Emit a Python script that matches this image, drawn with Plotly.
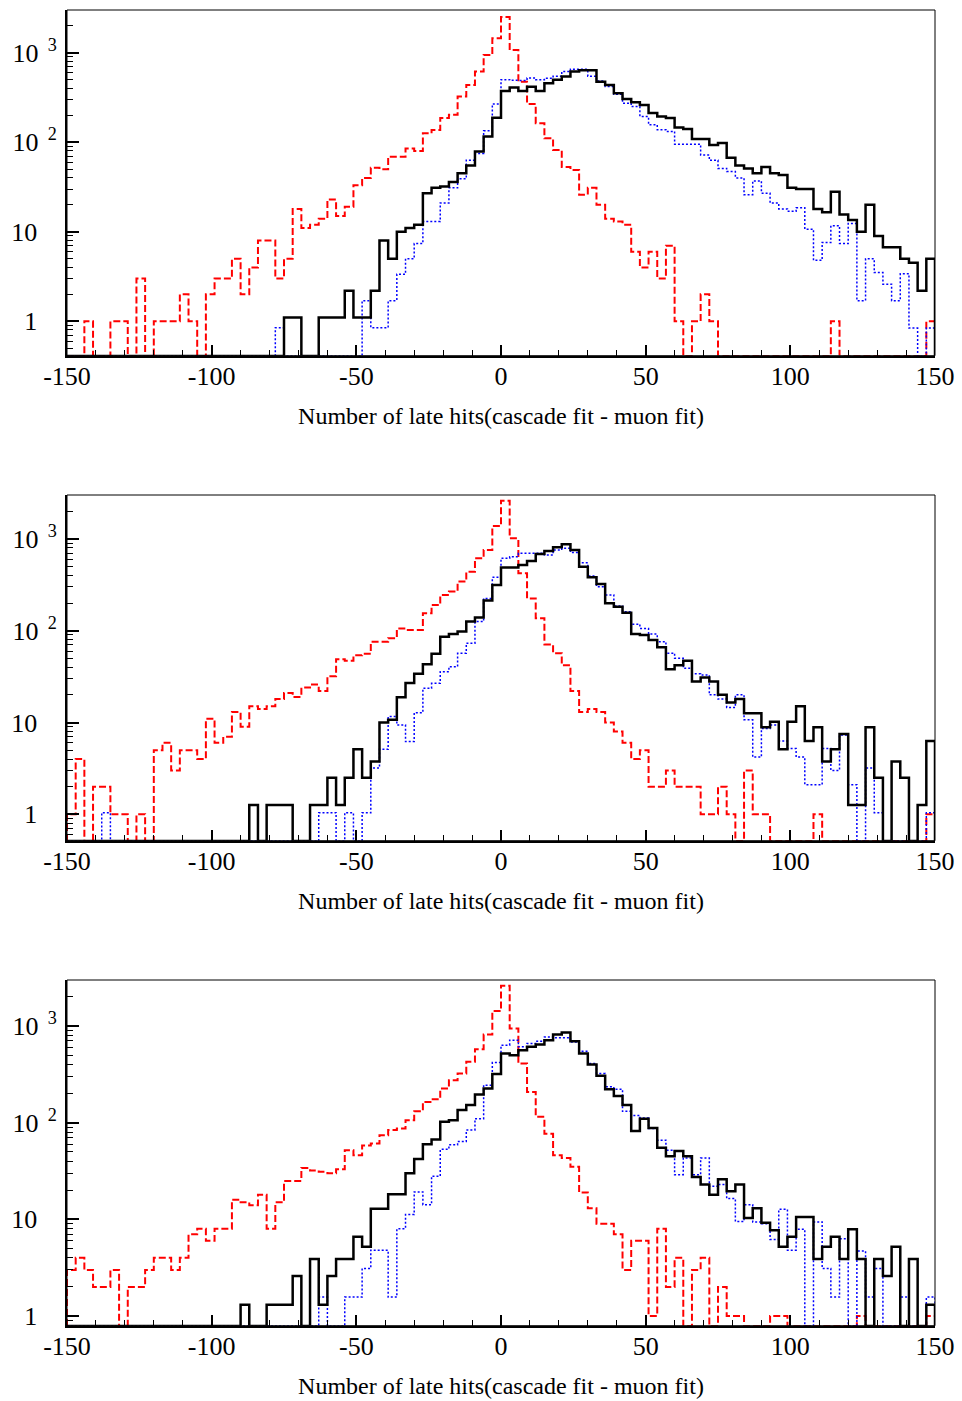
import numpy as np
import plotly.graph_objects as go

# ---------------- data ----------------
X_MIN, X_MAX, BIN_W = -150, 150, 3
X_TICKS = [-150, -100, -50, 0, 50, 100, 150]
X_TICK_TEXT = ["-150", "-100", "-50", "0", "50", "100", "150"]
Y_TICKS = [1, 10, 100, 1000]
Y_TICK_TEXT = ["1\u00a0\u00a0\u00a0", "10\u00a0\u00a0\u00a0",
               "10<sup>\u00a0\u00a02</sup>", "10<sup>\u00a0\u00a03</sup>"]
X_TITLE = "Number of late hits(cascade fit - muon fit)"

P1_RED = [0, 0, 1, 0, 0, 1, 1, 0, 3, 0, 1, 1, 1, 2, 1, 0, 2, 3, 3, 5,
          2, 4, 8, 8, 3, 5, 18, 11, 12, 14, 23, 15, 19, 33, 40, 52, 50, 69, 69, 85,
          80, 126, 137, 187, 203, 324, 437, 615, 944, 1450, 2500, 1075, 475, 268, 163, 111, 82, 53, 49, 26,
          31, 20, 14, 13, 12, 6, 4, 6, 3, 7, 1, 0, 1, 2, 1, 0, 0, 0, 0, 0,
          0, 0, 0, 0, 0, 0, 0, 0, 1, 0, 0, 0, 0, 0, 0, 0, 0, 0, 0, 1]
P1_BLU = [0, 0, 0, 0, 0, 0, 0, 0, 0, 0, 0, 0, 0, 0, 0, 0, 0, 0, 0, 0,
          0, 0, 0, 0, 0.85, 0, 0, 0, 0, 0, 0, 0, 0, 0, 1.7, 0.85, 0.85, 1.7, 3.35, 5,
          7.4, 13, 13, 21, 31, 39, 63, 75, 134, 267, 500, 491, 490, 523, 500, 519, 546, 615, 653, 653,
          546, 484, 419, 344, 273, 250, 194, 157, 138, 132, 95, 95, 95, 72, 63, 51, 47, 40, 26, 37,
          27, 21, 18, 17, 18.6, 10.7, 4.8, 7.6, 11.7, 7.4, 12.4, 1.7, 5, 3.5, 2.6, 1.7, 3.4, 0.84, 0, 0.84]
P1_BLK = [0, 0, 0, 0, 0, 0, 0, 0, 0, 0, 0, 0, 0, 0, 0, 0, 0, 0, 0, 0,
          0, 0, 0, 0, 0, 1.1, 1.1, 0, 0, 1.1, 1.1, 1.1, 2.2, 1.1, 1.1, 2.2, 8, 5, 10, 11,
          12, 27, 31, 32, 36, 45, 55, 79, 116, 188, 374, 408, 374, 417, 374, 456, 499, 543, 615, 636,
          636, 475, 437, 352, 305, 280, 261, 212, 194, 187, 146, 141, 109, 109, 93, 98, 67, 55, 51, 45,
          53, 45, 43, 31, 30, 30, 18, 16.5, 28, 15.6, 13.5, 10, 20, 9, 6.7, 6.7, 5, 4.5, 2.2, 5]

P2_RED = [1, 4, 0, 2, 2, 1, 1, 0, 1, 0, 5, 6, 3, 5, 5, 4, 11, 6, 7, 13,
          9, 15, 14, 15, 18, 21, 19, 24, 26, 22, 32, 49, 47, 54, 56, 76, 76, 83, 106, 102,
          102, 155, 191, 245, 267, 343, 440, 615, 757, 1384, 2612, 1016, 422, 225, 137, 71, 57, 42, 22, 13,
          14, 13, 10, 8, 6, 4, 5, 2, 2, 3, 2, 2, 2, 1, 1, 2, 1, 0, 3, 1,
          1, 0, 0, 0, 0, 0, 1, 0, 0, 0, 0, 0, 0, 0, 0, 0, 0, 0, 0, 1]
P2_BLU = [0, 0, 0, 0, 1.04, 0, 0, 0, 0, 0, 0, 0, 0, 0, 0, 0, 0, 0, 0, 0,
          0, 0, 0, 0, 0, 0, 0, 0, 0, 1.04, 1.04, 0, 1.04, 0, 1.04, 3.2, 5.1, 11.6, 9.4, 6.2,
          12.8, 23.6, 26.7, 35.8, 40.6, 56.7, 73, 126, 225, 382, 615, 641, 697, 697, 697, 668, 757, 790, 711, 551,
          395, 302, 245, 186, 161, 118, 106, 92, 76, 57, 50, 39, 34, 33, 20, 18, 14.6, 20, 10.7, 4.2,
          8.6, 9.4, 6.3, 5.2, 4.2, 2.1, 2.1, 5.2, 3, 7.3, 2.1, 0, 3.2, 1.04, 0, 0, 0, 0, 0, 1.04]
P2_BLK = [0, 0, 0, 0, 0, 0, 0, 0, 0, 0, 0, 0, 0, 0, 0, 0, 0, 0, 0, 0,
          0, 1.26, 0, 1.26, 1.26, 1.26, 0, 0, 1.26, 1.26, 2.5, 1.26, 2.5, 5.1, 2.5, 3.75, 10, 10.7, 18.8, 27,
          34, 43, 56, 86, 92, 98, 126, 139, 213, 315, 490, 490, 520, 575, 686, 739, 810, 874, 757, 499,
          382, 323, 199, 183, 157, 92, 90, 79, 66, 38, 42, 47, 28, 31, 28, 20, 16.5, 18, 12.6, 12.6,
          8.9, 10.2, 5.1, 10.2, 15, 6.3, 8.9, 3.75, 5.1, 7.5, 1.26, 1.26, 8.9, 2.5, 0, 3.75, 2.5, 0, 1.26, 6.3]

P3_RED = [3, 4, 3, 2, 2, 3, 0, 2, 2, 3, 4, 4, 3, 4, 7, 8, 6, 8, 8, 16,
          15, 14, 18, 8, 15, 25, 25, 34, 32, 31, 30, 33, 52, 46, 58, 61, 74, 84, 87, 106,
          131, 164, 175, 226, 275, 323, 426, 576, 817, 1426, 2608, 943, 409, 208, 115, 77, 46, 43, 35, 19,
          13, 9, 9, 7, 3, 6, 6, 1, 8, 2, 4, 0, 3, 4, 0, 2, 1, 1, 0, 0,
          0, 1, 1, 0, 0, 0, 0, 0, 0, 0, 0, 1, 0, 0, 0, 0, 0, 0, 0, 1]
P3_BLU = [0, 0, 0, 0, 0, 0, 0, 0, 0, 0, 0, 0, 0, 0, 0, 0, 0, 0, 0, 0,
          0, 0, 0, 0, 0, 0, 0, 0, 0, 1.57, 0, 0, 1.57, 1.57, 3.1, 4.8, 4.8, 1.57, 8.0, 11.2,
          19.2, 14.2, 28, 53, 59, 64, 84, 110, 244, 419, 634, 714, 609, 659, 697, 772, 755, 755, 685, 549,
          409, 323, 235, 222, 131, 119, 112, 87, 66, 52, 29, 43, 29, 43, 22, 23, 16.4, 9.5, 14.2, 9.4,
          9, 6.2, 12.7, 4.8, 7.9, 0, 9.4, 3.1, 1.57, 6.3, 0, 4.7, 1.57, 3.1, 0, 0, 1.57, 0, 0, 1.57]
P3_BLK = [0, 0, 0, 0, 0, 0, 0, 0, 0, 0, 0, 0, 0, 0, 0, 0, 0, 0, 0, 0,
          1.31, 0, 0, 1.31, 1.31, 1.31, 2.6, 0, 3.9, 1.31, 2.6, 3.9, 3.9, 6.6, 5.2, 12.9, 12.9, 18.2, 18.2, 30,
          42, 60, 67, 102, 106, 135, 152, 196, 226, 318, 520, 499, 562, 609, 644, 714, 817, 857, 697, 520,
          400, 305, 222, 189, 152, 82, 110, 88, 55, 45, 51, 45, 27.5, 23, 18, 26, 19.5, 23, 10.3, 13,
          9.2, 7.7, 5.2, 6.6, 10.6, 10.6, 3.9, 5.2, 6.6, 3.9, 7.9, 3.9, 0, 3.9, 2.6, 5.2, 0, 3.9, 0, 1.31]

PANELS = [
    {"red": P1_RED, "blue": P1_BLU, "black": P1_BLK},
    {"red": P2_RED, "blue": P2_BLU, "black": P2_BLK},
    {"red": P3_RED, "blue": P3_BLU, "black": P3_BLK},
]

# ---------------- layout geometry ----------------
W, H = 962, 1401
X_DOM = [67 / W, 935 / W]
PANEL_PX = [(10, 355.7), (495, 840.7), (980, 1325.7)]
Y_RANGES = [[-0.384, 3.477], [-0.288, 3.479], [-0.10, 3.476]]

FONT = "Liberation Serif"
STYLES = {
    "red": dict(color="#ff0000", width=2, dash="7px,3px"),
    "blue": dict(color="#0000ff", width=1.5, dash="2px,2px"),
    "black": dict(color="#000000", width=2.5),
}

edges = np.arange(X_MIN, X_MAX + BIN_W, BIN_W)
minor_y = [m * 10.0 ** e for e in range(-1, 4) for m in range(2, 10)]


def step_xy(vals, floor):
    v = np.asarray(vals, dtype=float)
    v = np.where(v > 0, v, floor)
    x = np.concatenate([[edges[0]], edges[:-1], [edges[-1], edges[-1]]])
    y = np.concatenate([[floor], v, [v[-1], floor]])
    return x, y


fig = go.Figure()
layout = dict(
    width=W, height=H, margin=dict(l=0, r=0, t=0, b=0),
    paper_bgcolor="white", plot_bgcolor="white", showlegend=False,
    font=dict(family=FONT, color="black"),
)
shapes = []
for i, panel in enumerate(PANELS):
    k = "" if i == 0 else str(i + 1)
    top, bot = PANEL_PX[i]
    lo, hi = Y_RANGES[i]
    floor = 10 ** (lo - 0.002)
    for name in ["red", "blue", "black"]:
        x, y = step_xy(panel[name], floor)
        fig.add_trace(go.Scatter(x=x, y=y, mode="lines", line_shape="hv",
                                 line=STYLES[name], xaxis="x" + k, yaxis="y" + k,
                                 hoverinfo="skip"))
    layout["xaxis" + k] = dict(
        domain=X_DOM, anchor="y" + k, range=[X_MIN, X_MAX],
        tickmode="array", tickvals=X_TICKS, ticktext=X_TICK_TEXT,
        ticks="inside", ticklen=11, tickwidth=1.5, tickcolor="black",
        minor=dict(tickmode="linear", tick0=X_MIN, dtick=10, ticks="inside",
                   ticklen=6, tickwidth=1, tickcolor="black"),
        showline=True, linewidth=2, linecolor="black", showgrid=False, zeroline=False,
        tickfont=dict(family=FONT, size=26), ticklabelstandoff=-4,
        title=dict(text=X_TITLE, font=dict(family=FONT, size=24), standoff=17),
        automargin=False,
    )
    layout["yaxis" + k] = dict(
        domain=[1 - bot / H, 1 - top / H], anchor="x" + k, type="log", range=[lo, hi],
        tickmode="array", tickvals=Y_TICKS, ticktext=Y_TICK_TEXT,
        ticks="inside", ticklen=12, tickwidth=1.5, tickcolor="black",
        minor=dict(tickmode="array", tickvals=minor_y, ticks="inside",
                   ticklen=6, tickwidth=1, tickcolor="black"),
        showline=True, linewidth=2, linecolor="black", showgrid=False, zeroline=False,
        tickfont=dict(family=FONT, size=26), ticklabelstandoff=3,
        automargin=False,
    )
    shapes.append(dict(type="rect", xref="x" + k + " domain", yref="y" + k + " domain",
                       x0=0, x1=1, y0=0, y1=1, line=dict(color="black", width=1),
                       fillcolor="rgba(0,0,0,0)", layer="above"))
layout["shapes"] = shapes
fig.update_layout(**layout)
fig.write_html("out.html")
